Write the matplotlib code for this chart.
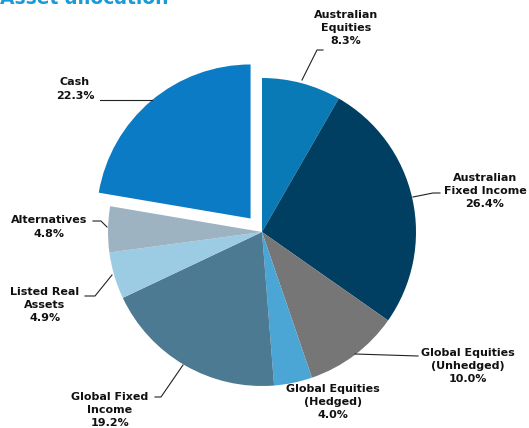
import matplotlib.pyplot as plt

labels = ["Australian\nEquities", "Australian\nFixed Income", "Global Equities\n(Unhedged)",
          "Global Equities\n(Hedged)", "Global Fixed\nIncome", "Listed Real\nAssets",
          "Alternatives", "Cash"]
values = [8.3, 26.4, 10.0, 4.0, 19.2, 4.9, 4.8, 22.3]
colors = ["#0a7ab6", "#003f62", "#767676", "#4ba5d5", "#4d7a93", "#9ccbe4", "#9db3c2", "#0a7bc4"]
explode = [0, 0, 0, 0, 0, 0, 0, 0.115]

W, H = 529, 428
# label centres (pixels from top-left) and leader lines
label_pos = [(346, 28), (485, 191), (468, 366), (333, 402), (110, 410), (45, 305), (49, 227), (75, 89)]
leaders = [
    [(323, 50), (317, 50), (302, 80)],
    [(440, 193), (433, 193), (413, 197)],
    [(418, 356), (355, 354)],
    None,
    [(155, 397), (161, 397), (183, 365)],
    [(85, 296), (95, 296), (112, 275)],
    [(93, 221), (101, 221), (107, 227)],
    [(100, 100), (152, 100)],
]

fig = plt.figure(figsize=(W / 100, H / 100), dpi=100)
ax = fig.add_axes([0, 0, 1, 1])

cx, cy, r = 262, H - 232, 154
ax.pie(values, colors=colors, explode=[e * r for e in explode], startangle=90, counterclock=False,
       center=(cx, cy), radius=r, wedgeprops=dict(linewidth=0))
ax.set_xlim(0, W)
ax.set_ylim(0, H)
ax.set_aspect("equal")
ax.axis("off")

for lab, v, (x, y), ln in zip(labels, values, label_pos, leaders):
    ax.text(x, H - y, f"{lab}\n{v:.1f}%", ha="center", va="center", fontsize=8,
            fontweight="bold", color="#111111", linespacing=1.4)
    if ln:
        ax.plot([p[0] for p in ln], [H - p[1] for p in ln], color="#222222", lw=0.8)

fig.text(0.0, 1 - 4 / H, "Asset allocation", ha="left", va="baseline", fontsize=13.5,
         fontweight="bold", color="#1a9ad6")

fig.savefig("out.png", dpi=100)
